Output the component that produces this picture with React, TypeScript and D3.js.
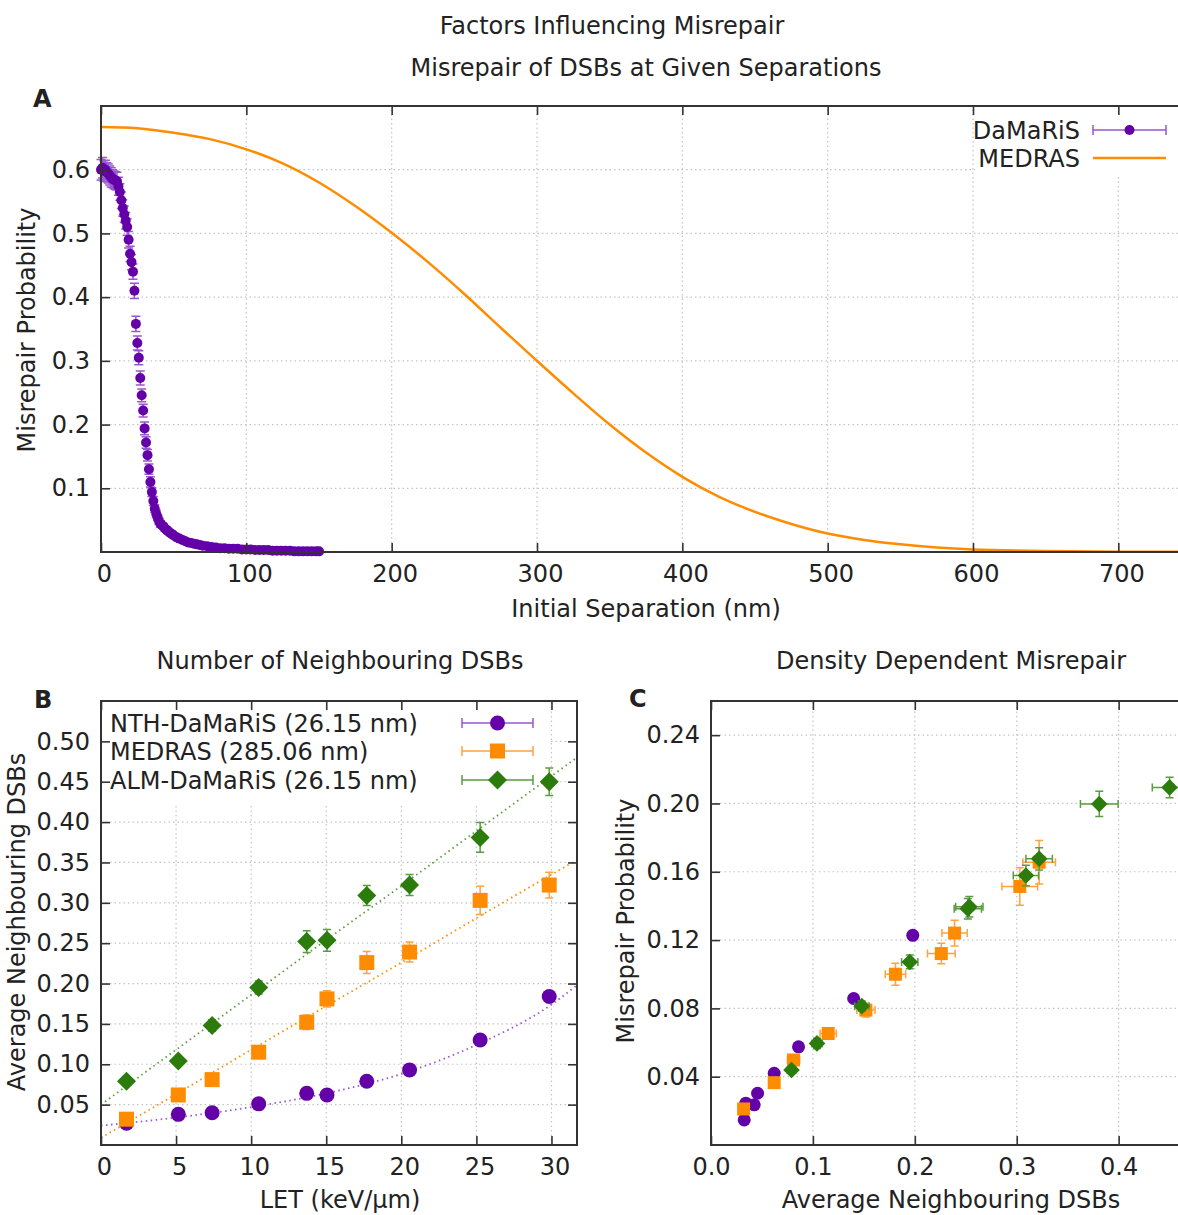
import React, { useEffect, useRef } from "react";
import * as d3 from "d3";

// Panel A: DaMaRiS misrepair vs initial separation  [nm, probability, error]
const damarisPoints: [number, number, number][] = [
  [0, 0.6, 0.016], [1, 0.603, 0.016], [2, 0.598, 0.016], [3, 0.6, 0.015], [4, 0.596, 0.015],
  [5, 0.594, 0.015], [6, 0.591, 0.015], [7, 0.588, 0.015], [8, 0.586, 0.014], [9, 0.584, 0.014],
  [10, 0.583, 0.014], [11, 0.582, 0.014], [12, 0.574, 0.014], [13, 0.565, 0.013], [14, 0.552, 0.013],
  [15, 0.54, 0.013], [16, 0.53, 0.013], [17, 0.52, 0.013], [18, 0.51, 0.013], [19, 0.49, 0.013],
  [20, 0.468, 0.012], [21, 0.455, 0.012], [22, 0.44, 0.012], [23, 0.41, 0.012], [24, 0.358, 0.012],
  [25, 0.328, 0.011], [26, 0.305, 0.011], [27, 0.273, 0.011], [28, 0.246, 0.01], [29, 0.222, 0.01],
  [30, 0.194, 0.01], [31, 0.172, 0.009], [32, 0.152, 0.009], [33, 0.13, 0.008], [34, 0.11, 0.008],
  [35, 0.094, 0.007], [36, 0.08, 0.007], [37, 0.068, 0.006], [38, 0.06, 0.006], [39, 0.054, 0.005],
  [40, 0.048, 0.005], [41, 0.044, 0.005], [42, 0.042, 0.004], [43, 0.04, 0.004], [44, 0.037, 0.004],
  [45, 0.035, 0.004], [46, 0.033, 0.004], [47, 0.031, 0.003], [48, 0.029, 0.003], [49, 0.028, 0.003],
  [50, 0.026, 0.003], [52, 0.023, 0.003], [54, 0.021, 0.003], [56, 0.019, 0.003], [58, 0.017, 0.003],
  [60, 0.015, 0.003], [62, 0.014, 0.002], [64, 0.013, 0.002], [66, 0.012, 0.002], [68, 0.011, 0.002],
  [70, 0.01, 0.002], [73, 0.009, 0.002], [76, 0.008, 0.002], [79, 0.007, 0.002], [82, 0.006, 0.002],
  [85, 0.006, 0.002], [88, 0.005, 0.002], [91, 0.005, 0.002], [94, 0.005, 0.002], [97, 0.004, 0.002],
  [100, 0.004, 0.002], [103, 0.004, 0.002], [106, 0.003, 0.002], [109, 0.003, 0.002], [112, 0.003, 0.002],
  [115, 0.003, 0.002], [118, 0.002, 0.002], [121, 0.002, 0.002], [124, 0.002, 0.002], [127, 0.002, 0.002],
  [130, 0.002, 0.002], [133, 0.001, 0.002], [136, 0.001, 0.002], [139, 0.001, 0.002], [142, 0.001, 0.002],
  [145, 0.001, 0.002], [148, 0.001, 0.002], [150, 0.001, 0.002],
];

// MEDRAS curve
const medrasSeparation = [0, 25, 50, 75, 100, 125, 150, 175, 200, 225, 250, 275, 300, 325, 350, 375, 400, 425, 450, 475, 500, 525, 550, 575, 600, 650, 700, 750];
const medrasProbability = [0.667, 0.665, 0.658, 0.648, 0.632, 0.61, 0.58, 0.543, 0.501, 0.455, 0.405, 0.352, 0.3, 0.249, 0.2, 0.156, 0.118, 0.087, 0.063, 0.044, 0.029, 0.019, 0.012, 0.007, 0.004, 0.0015, 0.0005, 0.0002];

// Panel B: average neighbouring DSBs vs LET
const letValues = [1.7, 5.15, 7.4, 10.5, 13.7, 15.05, 17.7, 20.55, 25.25, 29.85];
const nthNeighbours = [0.027, 0.038, 0.04, 0.051, 0.064, 0.062, 0.079, 0.093, 0.13, 0.184];
const nthNeighboursErr = [0.003, 0.003, 0.003, 0.003, 0.004, 0.004, 0.004, 0.004, 0.005, 0.006];
const medrasNeighbours = [0.032, 0.062, 0.081, 0.115, 0.152, 0.181, 0.226, 0.239, 0.303, 0.322];
const medrasNeighboursErr = [0.004, 0.005, 0.006, 0.008, 0.009, 0.01, 0.0136, 0.0124, 0.0175, 0.016];
const almNeighbours = [0.079, 0.104, 0.148, 0.195, 0.252, 0.2535, 0.309, 0.322, 0.381, 0.45];
const almNeighboursErr = [0.004, 0.005, 0.007, 0.008, 0.0134, 0.0134, 0.0124, 0.013, 0.0185, 0.017];

// dotted fit lines, read at these LET values
const fitLet = [0, 5, 10, 15, 20, 25, 30, 31.7];
const nthFit = [0.024, 0.034, 0.047, 0.064, 0.088, 0.124, 0.174, 0.198];
const medrasFit = [0.009, 0.063, 0.118, 0.172, 0.226, 0.281, 0.335, 0.353];
const almFit = [0.05, 0.118, 0.186, 0.254, 0.321, 0.389, 0.457, 0.48];

// Panel C: misrepair vs average neighbouring DSBs
const nthDensity = [0.0326, 0.0342, 0.0424, 0.0457, 0.062, 0.0859, 0.14, 0.198];
const nthMisrepair = [0.0147, 0.0245, 0.0235, 0.0303, 0.042, 0.0575, 0.0858, 0.1228];
const medrasMisrepair = [0.0211, 0.0365, 0.0498, 0.0653, 0.079, 0.1, 0.1121, 0.1241, 0.1514, 0.1656];
const medrasMisrepairErr = [0.002, 0.002, 0.003, 0.003, 0.004, 0.0065, 0.006, 0.0075, 0.011, 0.0127];
const almMisrepair = [0.0439, 0.0595, 0.0813, 0.1072, 0.1384, 0.1395, 0.1578, 0.1676, 0.1997, 0.2094];
const almMisrepairErr = [0.002, 0.003, 0.003, 0.004, 0.006, 0.006, 0.006, 0.0065, 0.0074, 0.006];

const aXTicks = [0, 100, 200, 300, 400, 500, 600, 700];
const aYTicks = [0.1, 0.2, 0.3, 0.4, 0.5, 0.6];
const bXTicks = [0, 5, 10, 15, 20, 25, 30];
const bYTicks = [0.05, 0.1, 0.15, 0.2, 0.25, 0.3, 0.35, 0.4, 0.45, 0.5];
const cXTicks = [0, 0.1, 0.2, 0.3, 0.4];
const cYTicks = [0.04, 0.08, 0.12, 0.16, 0.2, 0.24];

const W = 1178;
const H = 1215;
const FONT = "'DejaVu Sans', sans-serif";
const INK = "#222";
const AXIS = "#333";
const GRID = "#c4c4c4";
const PURPLE = "#6400a8";
const PURPLE_BAR = "#9a55d2";
const ORANGE = "#ff8c00";
const ORANGE_BAR = "#ffa340";
const GREEN = "#2b7c0c";
const GREEN_BAR = "#5a9c40";

type Pt = { x: number; y: number; xe: number; ye: number };

const shapePath = (shape: string, s: number) => {
  if (shape === "circle") return `M${s},0A${s},${s} 0 1,1 ${-s},0A${s},${s} 0 1,1 ${s},0Z`;
  if (shape === "square") return `M${-s},${-s}h${2 * s}v${2 * s}h${-2 * s}Z`;
  return `M0,${-s}L${s},0L0,${s}L${-s},0Z`;
};

function App() {
  const svgRef = useRef<SVGSVGElement>(null);

  useEffect(() => {
    const svg = d3.select(svgRef.current);
    svg.selectAll("*").remove();
    svg.append("rect").attr("width", W).attr("height", H).attr("fill", "white");

    const label = (x: number, y: number, s: string, anchor = "middle", bold = false, rotate = false) =>
      svg
        .append("text")
        .attr("transform", rotate ? `translate(${x},${y}) rotate(-90)` : `translate(${x},${y})`)
        .attr("text-anchor", anchor)
        .attr("font-family", FONT)
        .attr("font-size", 24)
        .attr("font-weight", bold ? "bold" : "normal")
        .attr("fill", INK)
        .text(s);

    const grid = (x: any, y: any, xTicks: number[], yTicks: number[]) => {
      const [xl, xr] = x.range();
      const [yb, yt] = y.range();
      const g = svg.append("g").attr("stroke", GRID).attr("stroke-width", 1.2).attr("stroke-dasharray", "1.5,3");
      g.selectAll("line.gx")
        .data(xTicks.filter((t) => x(t) > xl + 2 && x(t) < xr - 2))
        .join("line")
        .attr("x1", (d) => x(d)).attr("x2", (d) => x(d)).attr("y1", yb).attr("y2", yt);
      g.selectAll("line.gy")
        .data(yTicks.filter((t) => y(t) < yb - 2 && y(t) > yt + 2))
        .join("line")
        .attr("x1", xl).attr("x2", xr).attr("y1", (d) => y(d)).attr("y2", (d) => y(d));
    };

    const axes = (x: any, y: any, xTicks: number[], yTicks: number[], xFmt: any, yFmt: any, dx: number) => {
      const [xl, xr] = x.range();
      const [yb, yt] = y.range();
      const style = (sel: any) => {
        sel.select(".domain").remove();
        sel.selectAll(".tick line").attr("stroke", AXIS).attr("stroke-width", 1.6);
        sel.selectAll("text").attr("font-size", 24).attr("font-family", FONT).attr("fill", INK);
      };
      const g = svg.append("g");
      g.append("g").attr("transform", `translate(0,${yb})`)
        .call(d3.axisBottom(x).tickValues(xTicks).tickSize(-9).tickPadding(13).tickFormat(xFmt))
        .call(style).selectAll("text").attr("dx", dx);
      g.append("g").attr("transform", `translate(0,${yt})`)
        .call(d3.axisTop(x).tickValues(xTicks).tickSize(-9).tickFormat(() => ""))
        .call(style);
      g.append("g").attr("transform", `translate(${xl},0)`)
        .call(d3.axisLeft(y).tickValues(yTicks).tickSize(-9).tickPadding(11).tickFormat(yFmt))
        .call(style);
      g.append("g").attr("transform", `translate(${xr},0)`)
        .call(d3.axisRight(y).tickValues(yTicks).tickSize(-9).tickFormat(() => ""))
        .call(style);
      g.append("rect").attr("x", xl).attr("y", yt).attr("width", xr - xl).attr("height", yb - yt)
        .attr("fill", "none").attr("stroke", AXIS).attr("stroke-width", 2);
    };

    const series = (pts: Pt[], x: any, y: any, color: string, bar: string, shape: string, size: number, cap: number) => {
      const g = svg.append("g");
      g.selectAll("path.err")
        .data(pts)
        .join("path")
        .attr("fill", "none")
        .attr("stroke", bar)
        .attr("stroke-width", 1.5)
        .attr("d", (d) => {
          const cx = x(d.x);
          const cy = y(d.y);
          let p = "";
          if (d.ye > 0) {
            const y0 = y(d.y - d.ye);
            const y1 = y(d.y + d.ye);
            p += `M${cx},${y0}V${y1}M${cx - cap},${y0}h${2 * cap}M${cx - cap},${y1}h${2 * cap}`;
          }
          if (d.xe > 0) {
            const x0 = x(d.x - d.xe);
            const x1 = x(d.x + d.xe);
            p += `M${x0},${cy}H${x1}M${x0},${cy - cap}v${2 * cap}M${x1},${cy - cap}v${2 * cap}`;
          }
          return p;
        });
      g.selectAll("path.mk")
        .data(pts)
        .join("path")
        .attr("transform", (d) => `translate(${x(d.x)},${y(d.y)})`)
        .attr("d", shapePath(shape, size))
        .attr("fill", color);
    };

    const keySample = (x0: number, x1: number, cy: number, color: string, bar: string, shape: string | null, size: number) => {
      const g = svg.append("g");
      g.append("path")
        .attr("d", shape ? `M${x0},${cy}H${x1}M${x0},${cy - 5}v10M${x1},${cy - 5}v10` : `M${x0},${cy}H${x1}`)
        .attr("stroke", shape ? bar : color)
        .attr("stroke-width", shape ? 1.5 : 2.5)
        .attr("fill", "none");
      if (shape) {
        g.append("path").attr("transform", `translate(${(x0 + x1) / 2},${cy})`).attr("d", shapePath(shape, size)).attr("fill", color);
      }
    };

    // titles
    label(612, 34, "Factors Influencing Misrepair");

    // ---------------- Panel A ----------------
    const xA = d3.scaleLinear().domain([0, 750]).range([101, 1191]);
    const yA = d3.scaleLinear().domain([0, 0.7]).range([552, 106]);
    label(646, 76, "Misrepair of DSBs at Given Separations");
    label(33, 107, "A", "start", true);
    grid(xA, yA, aXTicks, aYTicks);
    svg.append("rect").attr("x", 975).attr("y", 107).attr("width", 216).attr("height", 68).attr("fill", "white");

    svg.append("path")
      .datum(medrasSeparation.map((s, i) => [s, medrasProbability[i]] as [number, number]))
      .attr("fill", "none")
      .attr("stroke", ORANGE)
      .attr("stroke-width", 2.5)
      .attr("d", d3.line<[number, number]>().x((d) => xA(d[0])).y((d) => yA(d[1])).curve(d3.curveCatmullRom.alpha(0.5)));

    series(
      damarisPoints.map((d) => ({ x: d[0], y: d[1], xe: 0, ye: d[2] })),
      xA, yA, PURPLE, PURPLE_BAR, "circle", 5, 4.5
    );
    axes(xA, yA, aXTicks, aYTicks, d3.format("d"), d3.format(".1f"), 3);
    label(646, 617, "Initial Separation (nm)");
    label(35, 330, "Misrepair Probability", "middle", false, true);
    label(1080, 139, "DaMaRiS", "end");
    label(1080, 167, "MEDRAS", "end");
    keySample(1093, 1166, 130, PURPLE, PURPLE_BAR, "circle", 5);
    keySample(1093, 1166, 158, ORANGE, ORANGE, null, 0);

    // ---------------- Panel B ----------------
    const xB = d3.scaleLinear().domain([0, 31.7]).range([101, 577]);
    const yB = d3.scaleLinear().domain([0, 0.55]).range([1145, 701]);
    label(340, 669, "Number of Neighbouring DSBs");
    label(34, 708, "B", "start", true);
    grid(xB, yB, bXTicks, bYTicks);
    svg.append("rect").attr("x", 102).attr("y", 702).attr("width", 447).attr("height", 104).attr("fill", "white");

    const fitLine = d3.line<[number, number]>().x((d) => xB(d[0])).y((d) => yB(d[1])).curve(d3.curveMonotoneX);
    const fits: [number[], string][] = [[nthFit, PURPLE_BAR], [medrasFit, ORANGE], [almFit, GREEN_BAR]];
    fits.forEach(([vals, color]) => {
      svg.append("path")
        .datum(fitLet.map((l, i) => [l, vals[i]] as [number, number]))
        .attr("fill", "none")
        .attr("stroke", color)
        .attr("stroke-width", 1.8)
        .attr("stroke-dasharray", "1.5,3.5")
        .attr("d", fitLine);
    });

    series(letValues.map((l, i) => ({ x: l, y: nthNeighbours[i], xe: 0, ye: nthNeighboursErr[i] })), xB, yB, PURPLE, PURPLE_BAR, "circle", 7.5, 4);
    series(letValues.map((l, i) => ({ x: l, y: medrasNeighbours[i], xe: 0, ye: medrasNeighboursErr[i] })), xB, yB, ORANGE, ORANGE_BAR, "square", 7.5, 4);
    series(letValues.map((l, i) => ({ x: l, y: almNeighbours[i], xe: 0, ye: almNeighboursErr[i] })), xB, yB, GREEN, GREEN_BAR, "diamond", 9.5, 4);
    axes(xB, yB, bXTicks, bYTicks, d3.format("d"), d3.format(".2f"), 3);
    label(340, 1208, "LET (keV/\u00b5m)");
    label(25, 922, "Average Neighbouring DSBs", "middle", false, true);

    label(110, 732, "NTH-DaMaRiS (26.15 nm)", "start");
    label(110, 760, "MEDRAS (285.06 nm)", "start");
    label(110, 789, "ALM-DaMaRiS (26.15 nm)", "start");
    keySample(462, 533, 723, PURPLE, PURPLE_BAR, "circle", 7.5);
    keySample(462, 533, 751, ORANGE, ORANGE_BAR, "square", 7.5);
    keySample(462, 533, 780, GREEN, GREEN_BAR, "diamond", 9.5);

    // ---------------- Panel C ----------------
    const xC = d3.scaleLinear().domain([0, 0.471]).range([711, 1191]);
    const yC = d3.scaleLinear().domain([0, 0.26]).range([1145, 701]);
    label(951, 669, "Density Dependent Misrepair");
    label(629, 707, "C", "start", true);
    grid(xC, yC, cXTicks, cYTicks);
    series(nthDensity.map((v, i) => ({ x: v, y: nthMisrepair[i], xe: 0.002, ye: 0.0015 })), xC, yC, PURPLE, PURPLE_BAR, "circle", 6.5, 4);
    series(medrasNeighbours.map((v, i) => ({ x: v, y: medrasMisrepair[i], xe: medrasNeighboursErr[i], ye: medrasMisrepairErr[i] })), xC, yC, ORANGE, ORANGE_BAR, "square", 6.5, 4);
    series(almNeighbours.map((v, i) => ({ x: v, y: almMisrepair[i], xe: almNeighboursErr[i], ye: almMisrepairErr[i] })), xC, yC, GREEN, GREEN_BAR, "diamond", 8.3, 4);
    axes(xC, yC, cXTicks, cYTicks, d3.format(".1f"), d3.format(".2f"), 0);
    label(951, 1208, "Average Neighbouring DSBs");
    label(634, 921, "Misrepair Probability", "middle", false, true);
  }, []);

  return (
    <div style={{ position: "absolute", left: 0, top: 0 }}>
      <svg ref={svgRef} width={W} height={H} style={{ display: "block" }} />
    </div>
  );
}

export default App;
